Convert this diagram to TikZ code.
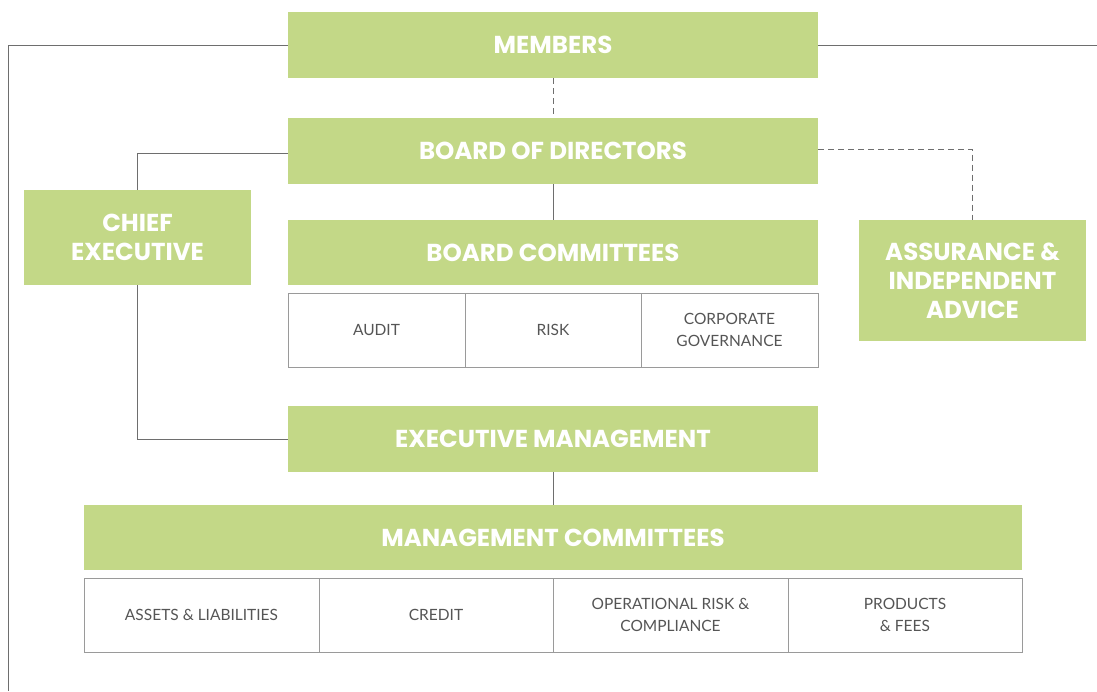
\documentclass[tikz,border=0pt]{standalone}
\usepackage{fontspec}
\setmainfont{Lato}
\newfontfamily\headfont{Poppins}
\definecolor{leaf}{HTML}{C3D887}
\definecolor{wire}{HTML}{6E6E6E}
\definecolor{rule}{HTML}{9A9A9A}
\definecolor{ink}{HTML}{555555}
\begin{document}
\begin{tikzpicture}[x=1pt,y=-1pt,
  greenbox/.style={fill=leaf,draw=none,inner sep=0pt,align=center,text=white,
    font=\headfont\bfseries\fontsize{24.5}{29}\selectfont},
  cellbox/.style={draw=rule,line width=1pt,fill=white,inner sep=0pt,align=center,text=ink,
    font=\fontsize{15.5}{22}\selectfont},
  link/.style={draw=wire,line width=1pt},
  dlink/.style={draw=wire,line width=1pt,dash pattern=on 6pt off 4pt}]
\useasboundingbox (0,0) rectangle (1097,691);

% governance tiers
\node[greenbox,minimum width=530pt,minimum height=66pt] (mem) at (553,45) {MEMBERS};
\node[greenbox,minimum width=530pt,minimum height=66pt] (bod) at (553,151) {BOARD OF DIRECTORS};
\node[greenbox,minimum width=530pt,minimum height=65pt] (bc) at (553,252.5) {BOARD COMMITTEES};
\node[greenbox,minimum width=227pt,minimum height=95pt] (ce) at (137.5,237.5) {CHIEF\\EXECUTIVE};
\node[greenbox,minimum width=227pt,minimum height=121pt] (aia) at (972.5,280.5) {ASSURANCE \&\\INDEPENDENT\\ADVICE};
\node[greenbox,minimum width=530pt,minimum height=66pt] (em) at (553,439) {EXECUTIVE MANAGEMENT};
\node[greenbox,minimum width=938pt,minimum height=65pt] (mc) at (553,537.5) {MANAGEMENT COMMITTEES};

% board committees
\node[cellbox,minimum width=177pt,minimum height=74pt] (audit) at (376.5,330) {AUDIT};
\node[cellbox,minimum width=176pt,minimum height=74pt] (risk) at (553,330) {RISK};
\node[cellbox,minimum width=177pt,minimum height=74pt] (cg) at (729.5,330) {CORPORATE\\GOVERNANCE};

% management committees
\node[cellbox,minimum width=235pt,minimum height=74pt] (al) at (201.5,615) {ASSETS \& LIABILITIES};
\node[cellbox,minimum width=234pt,minimum height=74pt] (cr) at (436,615) {CREDIT};
\node[cellbox,minimum width=235pt,minimum height=74pt] (orc) at (670.5,615) {OPERATIONAL RISK \&\\COMPLIANCE};
\node[cellbox,minimum width=234pt,minimum height=74pt] (pf) at (905,615) {PRODUCTS\\\& FEES};

% free ends of the outer frame line
\coordinate (frameL) at (8,691);
\coordinate (frameR) at (1097,45);

% connectors
\draw[dlink] (mem.south) -- (bod.north);
\draw[link] (bod.south) -- (bc.north);
\draw[link] (em.south) -- (mc.north);
\draw[link] (bod.west |- 0,153) -| (ce.north);
\draw[link] (ce.south) |- (em.west);
\draw[dlink] (bod.east |- 0,149) -| (aia.north);
\draw[link] (mem.west) -| (frameL);
\draw[link] (mem.east) -- (frameR);
\end{tikzpicture}
\end{document}
